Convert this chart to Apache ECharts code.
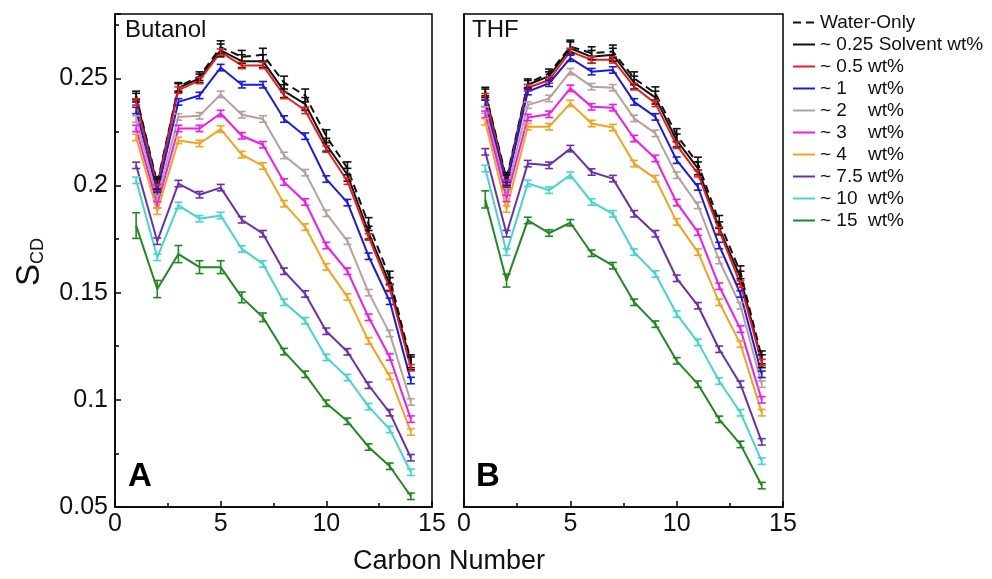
<!DOCTYPE html>
<html>
<head>
<meta charset="utf-8">
<script src="https://cdn.jsdelivr.net/npm/echarts@6/dist/echarts.min.js"></script>
<style>
  html, body { margin: 0; padding: 0; background: #fff; }
  #chart { width: 992px; height: 579px; }
</style>
</head>
<body>
<div id="chart"></div>
<script>
// carbon positions along the tail
const carbons = [1, 2, 3, 4, 5, 6, 7, 8, 9, 10, 11, 12, 13, 14];

const legendNames = ['Water-Only', '~ 0.25 Solvent wt%', '~ 0.5 wt%', '~ 1    wt%', '~ 2    wt%',
  '~ 3    wt%', '~ 4    wt%', '~ 7.5 wt%', '~ 10  wt%', '~ 15  wt%'];

// --- panel A : Butanol ---
const butWater = [0.242, 0.201, 0.246, 0.251, 0.2645, 0.260, 0.261, 0.248, 0.242, 0.223, 0.208, 0.182, 0.157, 0.118];
const but025   = [0.241, 0.200, 0.2455, 0.250, 0.263, 0.258, 0.258, 0.244, 0.238, 0.219, 0.205, 0.178, 0.154, 0.117];
const but05    = [0.239, 0.199, 0.2445, 0.249, 0.2622, 0.256, 0.256, 0.242, 0.235, 0.217, 0.202, 0.176, 0.152, 0.115];
const but1     = [0.235, 0.197, 0.239, 0.242, 0.255, 0.247, 0.247, 0.231, 0.223, 0.203, 0.192, 0.167, 0.146, 0.109];
const but2     = [0.231, 0.194, 0.232, 0.2325, 0.2425, 0.233, 0.231, 0.214, 0.206, 0.187, 0.174, 0.150, 0.131, 0.099];
const but3     = [0.2266, 0.191, 0.2266, 0.2266, 0.2336, 0.2232, 0.219, 0.2016, 0.1923, 0.172, 0.160, 0.1385, 0.120, 0.091];
const but4     = [0.2224, 0.188, 0.221, 0.2196, 0.2263, 0.2144, 0.2091, 0.1915, 0.1806, 0.162, 0.148, 0.1275, 0.111, 0.085];
const but75    = [0.2094, 0.174, 0.2009, 0.1957, 0.199, 0.184, 0.1775, 0.160, 0.1494, 0.132, 0.1224, 0.1068, 0.094, 0.073];
const but10    = [0.2024, 0.1665, 0.1907, 0.1845, 0.186, 0.1704, 0.1634, 0.1455, 0.1369, 0.1198, 0.1104, 0.0968, 0.0862, 0.0662];
const but15    = [0.1813, 0.1517, 0.168, 0.1619, 0.1619, 0.1478, 0.1385, 0.1225, 0.1119, 0.0984, 0.090, 0.078, 0.069, 0.055];

// --- panel B : THF ---
const thfWater = [0.2438, 0.203, 0.2477, 0.2523, 0.2648, 0.2617, 0.2625, 0.250, 0.243, 0.2235, 0.2102, 0.183, 0.1595, 0.1198];
const thf025   = [0.243, 0.202, 0.247, 0.251, 0.264, 0.260, 0.261, 0.248, 0.241, 0.221, 0.208, 0.180, 0.157, 0.118];
const thf05    = [0.2414, 0.201, 0.2456, 0.2492, 0.2625, 0.2586, 0.2586, 0.2461, 0.2383, 0.2188, 0.2055, 0.179, 0.154, 0.1174];
const thf1     = [0.2383, 0.200, 0.2438, 0.2477, 0.2594, 0.2531, 0.2539, 0.239, 0.232, 0.2118, 0.1993, 0.172, 0.1494, 0.1119];
const thf2     = [0.2352, 0.197, 0.2375, 0.2406, 0.2531, 0.2461, 0.2456, 0.2313, 0.2243, 0.2048, 0.1907, 0.165, 0.1439, 0.1073];
const thf3     = [0.2332, 0.194, 0.2317, 0.2332, 0.2453, 0.2367, 0.2363, 0.2219, 0.2126, 0.192, 0.1782, 0.153, 0.133, 0.100];
const thf4     = [0.2297, 0.189, 0.2274, 0.2274, 0.2383, 0.2289, 0.227, 0.2102, 0.2032, 0.183, 0.1689, 0.1455, 0.126, 0.094];
const thf75    = [0.2157, 0.1775, 0.2102, 0.2094, 0.2172, 0.2063, 0.2032, 0.1868, 0.1775, 0.1567, 0.1439, 0.1236, 0.1073, 0.0804];
const thf10    = [0.2079, 0.1689, 0.201, 0.1978, 0.2048, 0.1923, 0.1868, 0.1689, 0.1587, 0.140, 0.1268, 0.1088, 0.094, 0.0714];
const thf15    = [0.1935, 0.1556, 0.1837, 0.1778, 0.1826, 0.1684, 0.1626, 0.1455, 0.1353, 0.1182, 0.1073, 0.0909, 0.0792, 0.060];

// error bars (half widths); most series share a small one
const errSmall = [0.0015, 0.0015, 0.0015, 0.0015, 0.0015, 0.0015, 0.0015, 0.0015, 0.0015, 0.0015, 0.0015, 0.0015, 0.0015, 0.0015];
const errWater = [0.002, 0.003, 0.002, 0.002, 0.003, 0.003, 0.003, 0.003, 0.003, 0.003, 0.003, 0.003, 0.003, 0.003];
const butErr15 = [0.006, 0.004, 0.004, 0.003, 0.003, 0.0025, 0.002, 0.0015, 0.0015, 0.0015, 0.0015, 0.0015, 0.0015, 0.0015];
const thfErr15 = [0.004, 0.003, 0.0015, 0.0015, 0.0015, 0.0015, 0.0015, 0.0015, 0.0015, 0.0015, 0.0015, 0.0015, 0.0015, 0.0015];

const colors = ['#111111', '#111111', '#ee1c1c', '#1a1ae6', '#b89f9c', '#f01af0', '#f5a31c', '#6b2fb3', '#44d6cc', '#1f8a1f'];

const butSets = [butWater, but025, but05, but1, but2, but3, but4, but75, but10, but15];
const thfSets = [thfWater, thf025, thf05, thf1, thf2, thf3, thf4, thf75, thf10, thf15];
const butErrs = [errWater, errWater, errSmall, errSmall, errSmall, errSmall, errSmall, errSmall, errSmall, butErr15];
const thfErrs = [errWater, errWater, errSmall, errSmall, errSmall, errSmall, errSmall, errSmall, errSmall, thfErr15];

const FONT = 'Liberation Sans';

function lineSeries(name, color, ys, idx, dashed) {
  return {
    type: 'line', name: name, xAxisIndex: idx, yAxisIndex: idx,
    data: carbons.map((c, i) => [c, ys[i]]),
    symbol: 'none', z: 3,
    lineStyle: { color: color, width: 2, type: dashed ? [8, 5] : 'solid' },
    itemStyle: { color: color }
  };
}

function errSeries(color, ys, errs, idx) {
  return {
    type: 'custom', xAxisIndex: idx, yAxisIndex: idx, silent: true, z: 4,
    data: carbons.map((c, i) => [c, ys[i], errs[i]]),
    renderItem: function (params, api) {
      const x = api.value(0), y = api.value(1), e = api.value(2);
      const lo = api.coord([x, y - e]);
      const hi = api.coord([x, y + e]);
      const w = 4;
      const style = { stroke: color, lineWidth: 1.6 };
      return {
        type: 'group', children: [
          { type: 'line', shape: { x1: lo[0], y1: lo[1], x2: hi[0], y2: hi[1] }, style: style },
          { type: 'line', shape: { x1: lo[0] - w, y1: lo[1], x2: lo[0] + w, y2: lo[1] }, style: style },
          { type: 'line', shape: { x1: hi[0] - w, y1: hi[1], x2: hi[0] + w, y2: hi[1] }, style: style }
        ]
      };
    }
  };
}

const series = [];
[butSets, thfSets].forEach((sets, idx) => {
  const errs = idx === 0 ? butErrs : thfErrs;
  sets.forEach((ys, k) => {
    series.push(lineSeries(legendNames[k], colors[k], ys, idx, k === 0));
    series.push(errSeries(colors[k], ys, errs[k], idx));
  });
});

function xAxis(idx) {
  return {
    type: 'value', gridIndex: idx, min: 0, max: 15, interval: 5,
    axisLine: { show: true, onZero: false, lineStyle: { color: '#000', width: 1.5 } },
    axisTick: { show: true, inside: true, length: 6, lineStyle: { color: '#000', width: 1.5 } },
    minorTick: { show: true, splitNumber: 2, length: 4, lineStyle: { color: '#000', width: 1.5 } },
    splitLine: { show: false },
    axisLabel: { color: '#111', fontSize: 25, fontFamily: FONT, margin: 5 }
  };
}

function yAxis(idx) {
  return {
    type: 'value', gridIndex: idx, min: 0.05, max: 0.28, interval: 0.05,
    axisLine: { show: true, onZero: false, lineStyle: { color: '#000', width: 1.5 } },
    axisTick: { show: idx === 0, inside: true, length: 6, lineStyle: { color: '#000', width: 1.5 } },
    minorTick: { show: idx === 0, splitNumber: 2, length: 4, lineStyle: { color: '#000', width: 1.5 } },
    splitLine: { show: false },
    axisLabel: { show: idx === 0, showMaxLabel: false, color: '#111', fontSize: 25, fontFamily: FONT, margin: 7 }
  };
}

const chart = echarts.init(document.getElementById('chart'), null, { renderer: 'canvas' });

chart.setOption({
  backgroundColor: '#fff',
  animation: false,
  textStyle: { fontFamily: FONT },
  grid: [
    { left: 115, top: 14, width: 317, height: 493, show: true, borderColor: '#000', borderWidth: 1.5 },
    { left: 464, top: 14, width: 319, height: 493, show: true, borderColor: '#000', borderWidth: 1.5 }
  ],
  xAxis: [xAxis(0), xAxis(1)],
  yAxis: [yAxis(0), yAxis(1)],
  legend: {
    data: legendNames, orient: 'vertical', left: 792, top: 13, padding: 0,
    itemWidth: 22, itemHeight: 12, itemGap: 3,
    itemStyle: { opacity: 0 },
    textStyle: { fontSize: 19, fontFamily: FONT, color: '#111' }
  },
  graphic: [
    { type: 'text', x: 125, y: 30, style: { text: 'Butanol', fontSize: 24, fontFamily: FONT, fill: '#111', verticalAlign: 'middle' } },
    { type: 'text', x: 472, y: 30, style: { text: 'THF', fontSize: 24, fontFamily: FONT, fill: '#111', verticalAlign: 'middle' } },
    { type: 'text', x: 128, y: 477, style: { text: 'A', fontSize: 33, fontWeight: 'bold', fontFamily: FONT, fill: '#000', verticalAlign: 'middle' } },
    { type: 'text', x: 476, y: 477, style: { text: 'B', fontSize: 33, fontWeight: 'bold', fontFamily: FONT, fill: '#000', verticalAlign: 'middle' } },
    { type: 'text', x: 449, y: 562, style: { text: 'Carbon Number', fontSize: 27, fontFamily: FONT, fill: '#111', align: 'center', verticalAlign: 'middle' } },
    {
      type: 'text', x: 30, y: 262, rotation: Math.PI / 2,
      style: {
        text: '{s|S}{sub|CD}', align: 'center', verticalAlign: 'middle', fill: '#111',
        rich: {
          s: { fontSize: 33, fontFamily: FONT, fill: '#111', lineHeight: 34 },
          sub: { fontSize: 18, fontFamily: FONT, fill: '#111', lineHeight: 18, verticalAlign: 'bottom', padding: [10, 0, 0, 0] }
        }
      }
    }
  ],
  series: series
});
</script>
</body>
</html>
